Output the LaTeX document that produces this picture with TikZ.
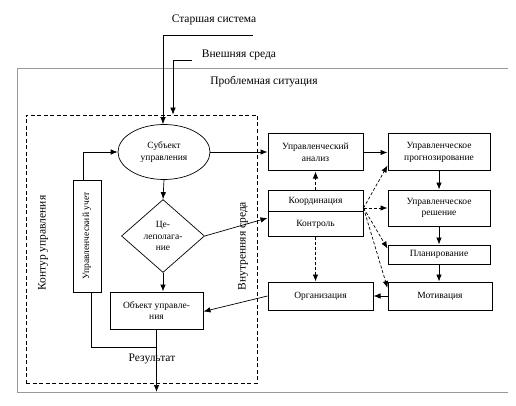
\documentclass[tikz,border=0pt]{standalone}
\usepackage{fontspec}
\setmainfont{Liberation Serif}
\usetikzlibrary{arrows.meta,shapes.geometric,calc}
\begin{document}
\begin{tikzpicture}[x=1pt,y=-1pt,
  every node/.style={inner sep=1pt},
  lbl/.style={font=\fontsize{11.5}{13}\selectfont},
  boxtxt/.style={font=\fontsize{9.5}{11.5}\selectfont, align=center},
  box/.style={draw, line width=1pt, boxtxt},
  conn/.style={line width=0.7pt},
  arr/.style={conn, -{Latex[length=7pt,width=5.5pt]}},
  darr/.style={arr, dashed, dash pattern=on 3pt off 2pt}
]
\useasboundingbox (0,0) rectangle (516,406);

% top labels
\node[lbl] (ss) at (214,20) {Старшая система};
\coordinate (ssr) at (253,35);
\coordinate (ssc) at (163,35);
\node[lbl] (vs) at (239,55) {Внешняя среда};
\coordinate (vsr) at (192,60);
\coordinate (vsc) at (173,60);

% problem situation frame
\coordinate (ftr) at (508,68);
\coordinate (ftl) at (17,68);
\coordinate (fbl) at (17,392);
\coordinate (fbr) at (508,392);
\draw[gray!80, line width=0.9pt] (ftr) -- (ftl) -- (fbl) -- (fbr);
\node[lbl] (ps) at (264,82) {Проблемная ситуация};

% inner dashed contour
\node[draw, dashed, dash pattern=on 4pt off 2.5pt, line width=0.7pt, minimum width=231pt, minimum height=268pt, inner sep=0] (inner) at (141.5,249) {};

% left nodes
\node[draw, ellipse, line width=0.7pt, minimum width=92pt, minimum height=55pt, boxtxt] (subj) at (164,152) {Субъект\\управления};
\node[draw, diamond, line width=0.7pt, minimum width=83pt, minimum height=73pt, inner sep=0pt, boxtxt] (cel) at (163,236) {Це-\\леполага-\\ние};
\node[box, minimum width=93pt, minimum height=37pt] (obj) at (156.5,310.5) {Объект управле-\\ния};
\node[box, minimum width=28pt, minimum height=112pt] (uu) at (87,236) {\rotatebox{90}{Управленческий учет}};

\node[lbl, rotate=90] (kont) at (43,243) {Контур управления};
\node[lbl, rotate=90] (vnutr) at (243,246) {Внутренняя среда};
\node[lbl] (res) at (152,359) {Результат};

% right nodes
\node[box, minimum width=95pt, minimum height=37pt] (an) at (315.5,152.5) {Управленческий\\анализ};
\node[box, minimum width=102pt, minimum height=37pt] (pr) at (439,152.5) {Управленческое\\прогнозирование};
\node[box, minimum width=95pt, minimum height=46pt] (kk) at (315.5,213) {};
\draw[line width=0.7pt] ([yshift=2pt]kk.west) -- ([yshift=2pt]kk.east);
\node[boxtxt] (kkt) at (315.5,201) {Координация};
\node[boxtxt] (kkb) at (315.5,224) {Контроль};
\node[box, minimum width=102pt, minimum height=36pt] (re) at (439,208) {Управленческое\\решение};
\node[box, minimum width=102pt, minimum height=19pt] (pl) at (439,254.5) {Планирование};
\node[box, minimum width=104pt, minimum height=28pt] (mo) at (440,296) {Мотивация};
\node[box, minimum width=105pt, minimum height=28pt] (org) at (320.5,296) {Организация};

% connectors: top inputs
\draw[conn] (ssr) -- (ssc);
\draw[arr] (ssc) -- (subj.north -| ssc);
\draw[conn] (vsr) -- (vsc);
\draw[arr] (vsc) -- (inner.north -| vsc);

% left flow
\draw[arr] (subj.south) -- (cel.north);
\draw[arr] (cel.south) -- (cel.south |- obj.north);
\draw[arr] ([xshift=-4pt]uu.north) |- (subj.west);
\coordinate (rj) at (156.5,347);
\coordinate (rend) at (156.5,392);
\draw[conn] ([xshift=4pt]uu.south) |- (rj);
\draw[arr] (obj.south) -- (rend);

% cross links
\draw[arr] (cel.east) -- ([yshift=-5pt]kk.west);
\draw[arr] (org.west) -- ([yshift=-1pt]obj.east);
\draw[arr] (subj.east) -- (subj.east -| an.west);

% right flow
\draw[arr] (an.east) -- (pr.west);
\draw[arr] (pr.south) -- (re.north);
\draw[arr] (re.south) -- (pl.north);
\draw[arr] (pl.south) -- (pl.south |- mo.north);
\draw[arr] (mo.west) -- (org.east);

% dashed links
\draw[darr] (kk.north) -- (an.south);
\draw[darr] (kk.south) -- (kk.south |- org.north);
\coordinate (kr) at ([yshift=5pt]kk.east);
\draw[darr] (kr) -- ([yshift=6pt]pr.south west);
\draw[darr] (kr) -- (re.west);
\draw[darr] (kr) -- ([yshift=6pt]pl.west);
\draw[darr] (kr) -- ([yshift=8pt]mo.west);
\end{tikzpicture}
\end{document}
